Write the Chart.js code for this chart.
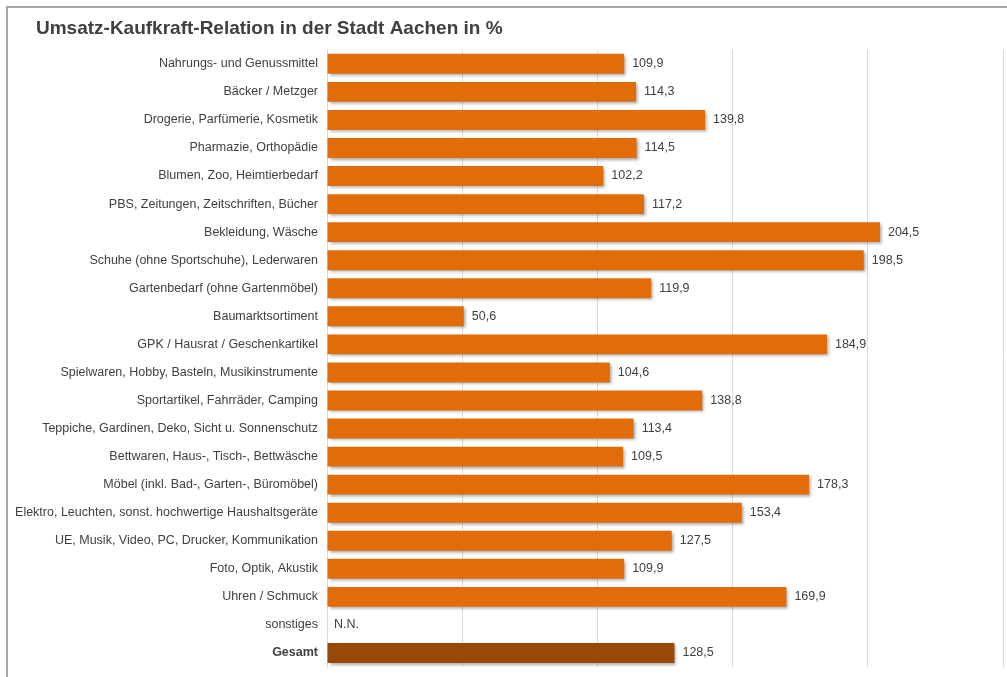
<!DOCTYPE html>
<html>
<head>
<meta charset="utf-8">
<script src="https://cdn.jsdelivr.net/npm/chart.js@4.4.1/dist/chart.umd.min.js"></script>
<style>
  html, body { margin: 0; padding: 0; background: #fff; overflow: hidden; }
  #frame {
    position: absolute; left: 6px; top: 6px; width: 1100px; height: 800px;
    border-top: 2px solid #a6a6a6; border-left: 2px solid #a6a6a6;
  }
  #wrap { position: absolute; left: 0; top: 0; width: 1007px; height: 677px; }
</style>
</head>
<body>
<div id="frame"></div>
<div id="wrap"><canvas id="chart-umsatz"></canvas></div>
<script>
const titel = "Umsatz-Kaufkraft-Relation in der Stadt Aachen in %";

const sortimente = [
  "Nahrungs- und Genussmittel",
  "Bäcker / Metzger",
  "Drogerie, Parfümerie, Kosmetik",
  "Pharmazie, Orthopädie",
  "Blumen, Zoo, Heimtierbedarf",
  "PBS, Zeitungen, Zeitschriften, Bücher",
  "Bekleidung, Wäsche",
  "Schuhe (ohne Sportschuhe), Lederwaren",
  "Gartenbedarf (ohne Gartenmöbel)",
  "Baumarktsortiment",
  "GPK / Hausrat / Geschenkartikel",
  "Spielwaren, Hobby, Basteln, Musikinstrumente",
  "Sportartikel, Fahrräder, Camping",
  "Teppiche, Gardinen, Deko, Sicht u. Sonnenschutz",
  "Bettwaren, Haus-, Tisch-, Bettwäsche",
  "Möbel (inkl. Bad-, Garten-, Büromöbel)",
  "Elektro, Leuchten, sonst. hochwertige Haushaltsgeräte",
  "UE, Musik, Video, PC, Drucker, Kommunikation",
  "Foto, Optik, Akustik",
  "Uhren / Schmuck",
  "sonstiges",
  "Gesamt"
];

const relation = [
  109.9, 114.3, 139.8, 114.5, 102.2, 117.2, 204.5, 198.5, 119.9, 50.6,
  184.9, 104.6, 138.8, 113.4, 109.5, 178.3, 153.4, 127.5, 109.9, 169.9,
  null, 128.5
];

const xTicks = [0, 50, 100, 150, 200, 250];

const orange = "#E36C0A";
const braun = "#984807";
const textColor = "#404040";
const schrift = "'Liberation Sans', Arial, sans-serif";

const farben = sortimente.map((s) => (s === "Gesamt" ? braun : orange));

// schatten unter den balken + werte rechts daneben
const balkenPlugin = {
  id: "balken",
  afterLayout(chart) {
    // titel etwas eingerueckt wie im original
    chart.titleBlock.left += 28;
  },
  beforeDatasetsDraw(chart) {
    const ctx = chart.ctx;
    ctx.save();
    ctx.shadowColor = "rgba(0,0,0,0.35)";
    ctx.shadowBlur = 3;
    ctx.shadowOffsetX = 2;
    ctx.shadowOffsetY = 2;
  },
  afterDatasetsDraw(chart) {
    const ctx = chart.ctx;
    ctx.restore();
    const meta = chart.getDatasetMeta(0);
    const x0 = chart.scales.x.getPixelForValue(0);
    ctx.save();
    ctx.font = "12.5px " + schrift;
    ctx.fillStyle = textColor;
    ctx.textAlign = "left";
    ctx.textBaseline = "middle";
    meta.data.forEach((bar, i) => {
      const v = relation[i];
      if (v === null) {
        ctx.fillText("N.N.", x0 + 7, bar.y);
      } else {
        ctx.fillText(v.toFixed(1).replace(".", ","), bar.x + 8, bar.y);
      }
    });
    ctx.restore();
  },
};

new Chart(document.getElementById("chart-umsatz"), {
  type: "bar",
  plugins: [balkenPlugin],
  data: {
    labels: sortimente,
    datasets: [
      {
        data: relation,
        backgroundColor: farben,
        borderWidth: 0,
        barPercentage: 0.71,
        categoryPercentage: 1,
      },
    ],
  },
  options: {
    indexAxis: "y",
    responsive: true,
    maintainAspectRatio: false,
    animation: false,
    layout: {
      padding: { top: 17, left: 8, right: 4, bottom: 10 },
    },
    plugins: {
      legend: { display: false },
      tooltip: { enabled: false },
      title: {
        display: true,
        text: titel,
        align: "start",
        color: textColor,
        padding: { top: 0, bottom: 10 },
        font: { size: 19, weight: "bold", family: schrift },
      },
    },
    scales: {
      x: {
        min: 0,
        max: 250,
        afterBuildTicks(axis) {
          axis.ticks = xTicks.map((v) => ({ value: v }));
        },
        grid: {
          display: true,
          drawTicks: false,
          color: "#d9d9d9",
        },
        border: { display: false },
        ticks: { display: false },
      },
      y: {
        afterFit(axis) {
          axis.width = 319;
          axis.paddingTop = 0;
          axis.paddingBottom = 0;
        },
        grid: { display: false, drawTicks: false },
        border: { display: true, color: "#d9d9d9" },
        ticks: {
          autoSkip: false,
          padding: 9,
          color: textColor,
          font: (c) => ({
            size: 12.5,
            family: schrift,
            weight: c.index === sortimente.length - 1 ? "bold" : "normal",
          }),
        },
      },
    },
  },
});
</script>
</body>
</html>
